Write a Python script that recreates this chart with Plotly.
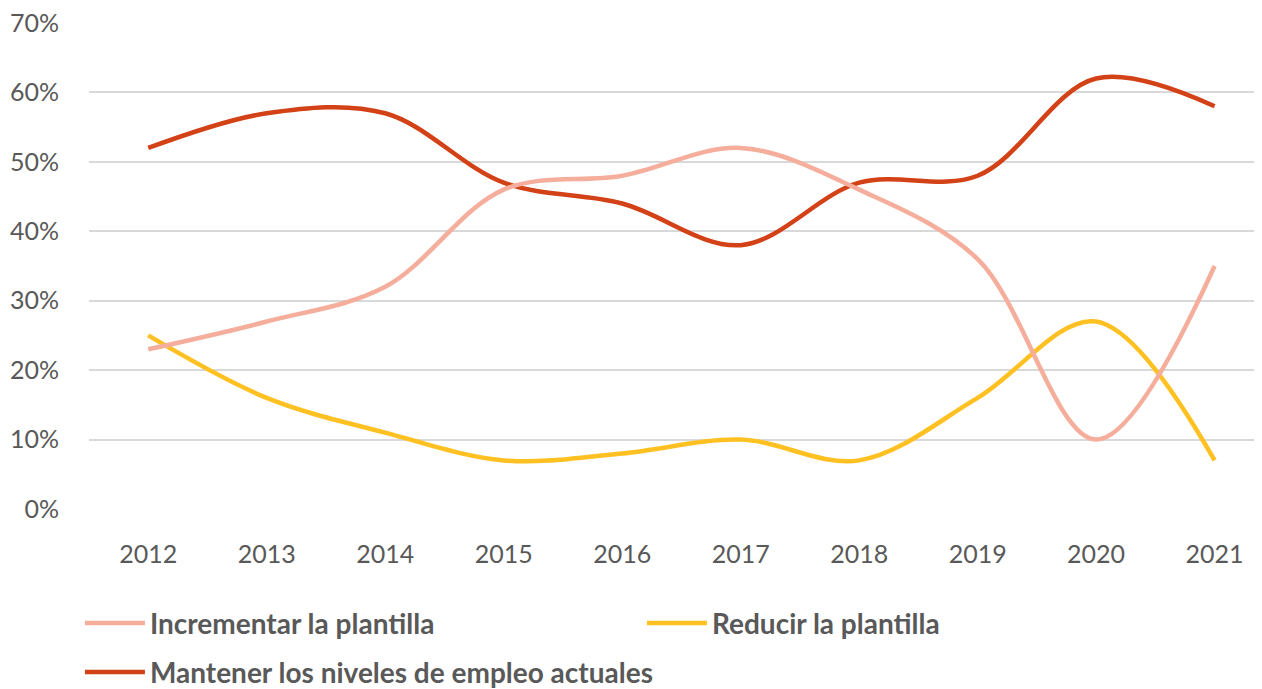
import plotly.graph_objects as go

years = ["2012", "2013", "2014", "2015", "2016", "2017", "2018", "2019", "2020", "2021"]
incrementar = [23, 27, 32, 46, 48, 52, 46, 36, 10, 35]
reducir = [25, 16, 11, 7, 8, 10, 7, 16, 27, 7]
mantener = [52, 57, 57, 47, 44, 38, 47, 48, 62, 58]

names = ["Incrementar la plantilla", "Reducir la plantilla", "Mantener los niveles de empleo actuales"]
colors = ["#F5AE9C", "#FFC022", "#D34117"]

fig = go.Figure()
# draw order: Mantener first, then Reducir, then Incrementar on top
fig.add_trace(go.Scatter(x=years, y=mantener, name=names[2], mode="lines",
                         line=dict(color=colors[2], width=4.5, shape="spline", smoothing=1),
                         legend="legend2", legendrank=3))
fig.add_trace(go.Scatter(x=years, y=reducir, name=names[1], mode="lines",
                         line=dict(color=colors[1], width=4.5, shape="spline", smoothing=1),
                         legend="legend", legendrank=2))
fig.add_trace(go.Scatter(x=years, y=incrementar, name=names[0], mode="lines",
                         line=dict(color=colors[0], width=4.5, shape="spline", smoothing=1),
                         legend="legend", legendrank=1))

font_family = "Lato, 'Open Sans', sans-serif"
legend_font = dict(size=28, color="#595959", family="Lato, sans-serif", weight="bold")
fig.update_layout(
    width=1262, height=689,
    margin=dict(l=81, r=8, t=15, b=188),
    paper_bgcolor="white", plot_bgcolor="white",
    font=dict(family=font_family, color="#595959", size=25),
    xaxis=dict(type="category", range=[-0.5, 9.4], showgrid=False, showline=False,
               ticks="", tickfont=dict(size=25, color="#595959"), zeroline=False,
               ticklabelstandoff=28, automargin=False),
    yaxis=dict(range=[0, 70], dtick=10, ticksuffix="%", showgrid=True, gridcolor="#D9D9D9",
               gridwidth=1.5, zeroline=False, showline=False, ticks="",
               tickfont=dict(size=25, color="#595959"), ticklabelstandoff=29,
               ticklabeloverflow="allow", automargin=False),
    legend=dict(orientation="h", x=0.057, xref="container", y=0.107, yref="container",
                yanchor="middle", xanchor="left", entrywidth=487, entrywidthmode="pixels",
                font=legend_font, traceorder="normal", bgcolor="rgba(0,0,0,0)", itemwidth=60),
    legend2=dict(orientation="h", x=0.057, xref="container", y=0.036, yref="container",
                 yanchor="middle", xanchor="left", font=legend_font,
                 bgcolor="rgba(0,0,0,0)", itemwidth=60),
    showlegend=True,
)

fig.write_html("out.html")
